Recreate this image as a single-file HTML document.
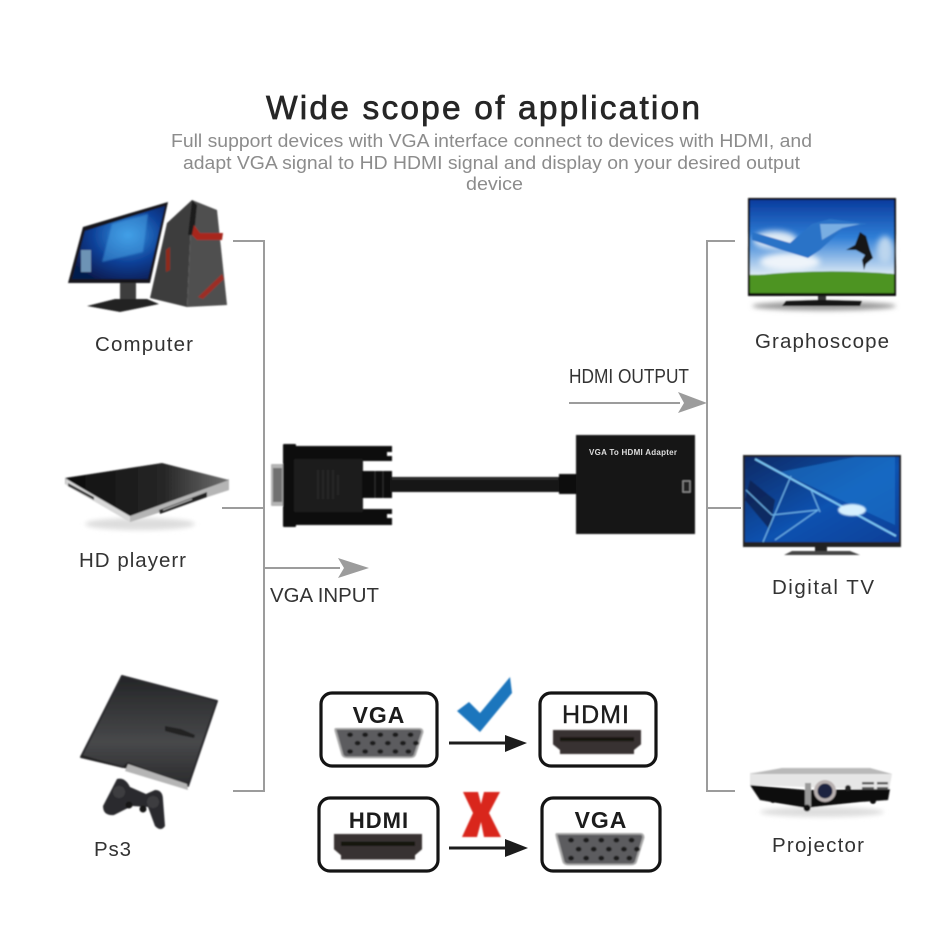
<!DOCTYPE html>
<html><head><meta charset="utf-8"><style>html,body{margin:0;padding:0;background:#fff}svg{display:block}text{font-family:"Liberation Sans",sans-serif}</style></head><body>
<svg width="942" height="942" viewBox="0 0 942 942" xmlns="http://www.w3.org/2000/svg">
<defs>
<filter id="b" x="-10%" y="-10%" width="120%" height="120%"><feGaussianBlur stdDeviation="0.7"/></filter>
<filter id="s" x="-20%" y="-100%" width="140%" height="300%"><feGaussianBlur stdDeviation="2.5"/></filter>
<filter id="c" x="-50%" y="-50%" width="200%" height="200%"><feGaussianBlur stdDeviation="3"/></filter>
<linearGradient id="sky" x1="0" y1="0" x2="0" y2="1"><stop offset="0" stop-color="#0a3c9e"/><stop offset=".4" stop-color="#2f7ed6"/><stop offset=".8" stop-color="#dbe9f5"/><stop offset=".81" stop-color="#5f9e2c"/><stop offset="1" stop-color="#2f7a14"/></linearGradient>
<linearGradient id="tv2" x1="0" y1="0" x2="1" y2="1"><stop offset="0" stop-color="#0a2a66"/><stop offset=".55" stop-color="#0d52b0"/><stop offset="1" stop-color="#0a3f98"/></linearGradient>
<radialGradient id="win" cx=".6" cy=".4" r=".7"><stop offset="0" stop-color="#3a9be8"/><stop offset=".55" stop-color="#0d3f96"/><stop offset="1" stop-color="#061a4d"/></radialGradient>
<linearGradient id="ps" x1="0" y1="0" x2="0" y2="1"><stop offset="0" stop-color="#242527"/><stop offset=".6" stop-color="#47484a"/><stop offset="1" stop-color="#2a2a2c"/></linearGradient>
<linearGradient id="pl" x1="0" y1="0" x2="1" y2="0"><stop offset="0" stop-color="#0c0c0c"/><stop offset=".6" stop-color="#262626"/><stop offset="1" stop-color="#707070"/></linearGradient>
<g id="vgaport">
<path d="M0 1 H77 Q80 1 80 5 L73 32 Q72 35 68 35 H11 Q7 35 6 32 L0 5 Q-1 1 0 1Z" fill="#5c5c5e" stroke="#a9a9a9" stroke-width="2"/>
<g fill="#1c1c1c"><circle cx="13" cy="8" r="2.7"/><circle cx="27" cy="8" r="2.7"/><circle cx="41" cy="8" r="2.7"/><circle cx="55" cy="8" r="2.7"/><circle cx="69" cy="8" r="2.7"/><circle cx="20" cy="18" r="2.7"/><circle cx="34" cy="18" r="2.7"/><circle cx="48" cy="18" r="2.7"/><circle cx="62" cy="18" r="2.7"/><circle cx="74" cy="18" r="2.7"/><circle cx="13" cy="28" r="2.7"/><circle cx="27" cy="28" r="2.7"/><circle cx="41" cy="28" r="2.7"/><circle cx="55" cy="28" r="2.7"/><circle cx="67" cy="28" r="2.7"/></g>
</g>
<g id="hdmiport">
<path d="M0 0 H88 V18 L81 25 V30 H7 V25 L0 18Z" fill="#383331"/>
<rect x="7" y="9" width="74" height="5" fill="#151210"/>
</g>
</defs>

<!-- connectors -->
<g fill="none" stroke="#9c9c9c" stroke-width="2">
<path d="M233 241H264V791H233"/>
<path d="M222 508H264"/>
<path d="M735 241H707V791H735"/>
<path d="M707 508H741"/>
<path d="M569 403H680"/>
<path d="M265 568H340"/>
</g>
<path d="M678 392L707 403L678 413L684 403Z" fill="#9c9c9c"/>
<path d="M338 558L369 568L338 578L344 568Z" fill="#9c9c9c"/>

<!-- title -->
<text x="266" y="119" font-size="33.5" fill="#262626" stroke="#262626" stroke-width=".7" textLength="434" lengthAdjust="spacing">Wide scope of application</text>
<g font-size="18" fill="#8c8c8c">
<text x="171" y="147" textLength="641" lengthAdjust="spacingAndGlyphs">Full support devices with VGA interface connect to devices with HDMI, and</text>
<text x="183" y="169" textLength="617" lengthAdjust="spacingAndGlyphs">adapt VGA signal to HD HDMI signal and display on your desired output</text>
<text x="466" y="190" textLength="57" lengthAdjust="spacingAndGlyphs">device</text>
</g>

<!-- labels -->
<g font-size="20.5" fill="#333">
<text x="95" y="351" textLength="98">Computer</text>
<text x="79" y="567" textLength="107">HD playerr</text>
<text x="94" y="856" textLength="37">Ps3</text>
<text x="755" y="348" textLength="134">Graphoscope</text>
<text x="772" y="594" textLength="102">Digital  TV</text>
<text x="772" y="852" textLength="92">Projector</text>
<text x="569" y="383" textLength="120" lengthAdjust="spacingAndGlyphs">HDMI OUTPUT</text>
<text x="270" y="602" textLength="109" lengthAdjust="spacingAndGlyphs">VGA INPUT</text>
</g>

<!-- computer -->
<g filter="url(#b)">
<path d="M150 298L167 223L192 200L187 307Z" fill="#3d3d3d"/>
<path d="M192 200L217 210L227 305L187 307Z" fill="#4f4f4f"/>
<path d="M192 200L197 205L194 235L188 235Z" fill="#1e1e1e"/>
<path d="M194 225L200 233L223 233L222 240L197 240L192 235Z" fill="#a8261c"/>
<path d="M198 297L222 274L224 279L203 299Z" fill="#9b2f25"/>
<path d="M166 250L170 247V270L166 272Z" fill="#8f2a1d"/>
<path d="M83 227L168 202L150 283H68Z" fill="#15171c"/>
<path d="M85 231L165 206L148 279H72Z" fill="url(#win)"/>
<path d="M112 224L148 214L143 252L102 262Z" fill="#4aa4e6" opacity=".5" filter="url(#b)"/>
<rect x="81" y="250" width="10" height="22" fill="#6d93b5"/>
<rect x="120" y="283" width="16" height="20" fill="#3d3d3d"/>
<path d="M87 306L115 299H147L159 304L120 312Z" fill="#222"/>
</g>

<!-- HD player -->
<g filter="url(#b)">
<ellipse cx="140" cy="524" rx="55" ry="6" fill="#ddd" filter="url(#s)"/>
<path d="M65 484L130 522L229 490V479L130 517L65 478Z" fill="#b9b9b9"/>
<path d="M65 478L162 463L229 480L130 518Z" fill="url(#pl)"/>
<path d="M66 485L130 522L130 516L66 479Z" fill="#d8d8d8"/>
<path d="M68 486L94 500V497L68 483Z" fill="#333"/>
<path d="M130 522L229 490V480L130 516Z" fill="#b5b5b5"/>
<path d="M159 510L207 492V497L160 514Z" fill="#222"/>
<path d="M163 510L192 499" stroke="#bbb" stroke-width="1"/>
</g>

<!-- PS3 -->
<g filter="url(#b)">
<path d="M122 676L217 701L188 786L128 763L123 767L81 757Z" fill="url(#ps)" stroke="#2c2c2e" stroke-width="2" stroke-linejoin="round"/>
<path d="M81 757L124 768L187 788L188 784L128 763L123 767L82 755Z" fill="#202020"/>
<path d="M128 764L187 784L188 790L125 771Z" fill="#b5b5b5"/>
<path d="M165 726L181 729L195 735L194 738L180 735L165 731Z" fill="#232323"/>
<path d="M117 779Q125 777 130 787L146 794L155 790Q163 790 163 800L165 826Q161 832 155 826L148 807L132 806L114 815Q103 816 103 806Z" fill="#2a2b2e"/>
<circle cx="119" cy="792" r="6" fill="#3d3d40"/><circle cx="153" cy="802" r="6" fill="#3d3d40"/>
<circle cx="129" cy="805" r="3.5" fill="#151515"/><circle cx="143" cy="809" r="3.5" fill="#151515"/>
</g>

<!-- TV1 -->
<g filter="url(#b)">
<ellipse cx="824" cy="306" rx="72" ry="4.5" fill="#999" filter="url(#s)"/>
<rect x="748" y="198" width="148" height="98" fill="#111"/>
<rect x="750" y="200" width="144" height="93" fill="url(#sky)"/>
<ellipse cx="775" cy="240" rx="22" ry="9" fill="#dfeaf5" filter="url(#c)"/>
<ellipse cx="790" cy="262" rx="30" ry="9" fill="#eef4fa" filter="url(#c)"/>
<ellipse cx="885" cy="250" rx="8" ry="14" fill="#bcd6ee" filter="url(#c)"/>
<path d="M752 232L790 243L812 224L830 219L868 224L845 227L820 250L808 258L782 250L752 240Z" fill="#2b73c7"/>
<path d="M820 224L860 224L842 228L822 240Z" fill="#79aee2"/>
<path d="M860 232L866 236L870 250L873 258L866 264L864 270L862 260L865 255L856 250L846 250L855 245Z" fill="#141414"/>
<path d="M750 276Q820 268 894 274V293H750Z" fill="#4d9422"/>
<rect x="818" y="296" width="8" height="6" fill="#333"/>
<path d="M786 301L818 300H826L862 301L860 306H782Z" fill="#181818"/>
</g>

<!-- TV2 -->
<g filter="url(#b)">
<rect x="743" y="455" width="158" height="92" fill="#222"/>
<rect x="745" y="457" width="154" height="85" fill="url(#tv2)"/>
<path d="M780 472L855 457H895V525Z" fill="#1a78cf" opacity=".6"/>
<path d="M750 480L775 500L770 530L745 500Z" fill="#0a1f4a" opacity=".7"/>
<path d="M755 459L896 536" stroke="#7cc7f5" stroke-width="2"/>
<path d="M791 476L763 542M746 490L772 515M772 515L818 510L775 540M811 490L820 512" stroke="#6cb3e8" stroke-width="1.2" fill="none"/>
<ellipse cx="852" cy="510" rx="14" ry="6" fill="#d6f0ff" filter="url(#b)"/>
<rect x="815" y="547" width="12" height="7" fill="#222"/>
<path d="M784 555L792 551H850L860 555Z" fill="#444"/>
</g>

<!-- projector -->
<g filter="url(#b)">
<ellipse cx="822" cy="812" rx="62" ry="5" fill="#ddd" filter="url(#s)"/>
<path d="M750 773L782 768H870L892 774L889 790L750 785Z" fill="#e6e6e6"/>
<path d="M782 768H870L892 774H750Z" fill="#b9b9b9"/>
<path d="M750 785L806 790L890 789L888 800L860 802L806 808L760 800Z" fill="#111"/>
<rect x="805" y="783" width="6" height="24" fill="#999"/>
<circle cx="825" cy="791" r="11" fill="#b8b0b0"/>
<circle cx="825" cy="791" r="7.5" fill="#1a2340"/>
<circle cx="848" cy="788" r="3" fill="#222"/>
<g fill="#555"><rect x="862" y="782" width="12" height="2.5"/><rect x="862" y="787" width="12" height="2.5"/><rect x="877" y="782" width="11" height="2.5"/><rect x="877" y="787" width="11" height="2.5"/></g>
<circle cx="807" cy="808" r="3.5" fill="#111"/><circle cx="773" cy="800" r="3" fill="#111"/><circle cx="873" cy="801" r="3" fill="#111"/>
</g>

<!-- adapter -->
<g filter="url(#b)">
<rect x="271" y="464" width="13" height="42" rx="1" fill="#b4b4b4"/>
<rect x="273" y="468" width="9" height="34" fill="#6f6f6f"/>
<rect x="283" y="444" width="13" height="83" rx="1" fill="#111"/>
<path d="M296 446H392V452H387V456H392V461H296Z" fill="#111"/>
<path d="M296 509H392V514H387V518H392V525H296Z" fill="#111"/>
<rect x="294" y="459" width="69" height="53" rx="2" fill="#1a1a1a"/>
<path d="M318 470V499M323 470V499M328 470V499M333 470V499M338 475V495" stroke="#2f2f2f" stroke-width="1.2"/>
<rect x="362" y="471" width="30" height="27" fill="#111"/>
<path d="M375 471V498M383 471V498" stroke="#333"/>
<rect x="390" y="477" width="172" height="15" fill="#131313"/>
<path d="M392 479H558" stroke="#3a3a3a"/>
<rect x="559" y="474" width="18" height="20" fill="#0f0f0f"/>
<rect x="576" y="435" width="119" height="99" fill="#131313"/>
<rect x="683" y="481" width="7" height="11" fill="#222" stroke="#999"/>
</g>
<text x="589" y="455" font-size="8" font-weight="700" fill="#ddd" textLength="88">VGA To HDMI Adapter</text>

<!-- compat boxes -->
<g fill="none" stroke="#141414" stroke-width="3.2">
<rect x="321" y="693" width="116" height="73" rx="11"/>
<rect x="540" y="693" width="116" height="73" rx="11"/>
<rect x="319" y="798" width="119" height="73" rx="11"/>
<rect x="542" y="798" width="118" height="73" rx="11"/>
</g>
<g fill="#1c1c1c" text-anchor="middle">
<text x="379" y="723" font-size="23" font-weight="700" letter-spacing="1">VGA</text>
<text x="596" y="723" font-size="25" letter-spacing="1" stroke="#1c1c1c" stroke-width=".4">HDMI</text>
<text x="379" y="828" font-size="22" font-weight="700" letter-spacing="1">HDMI</text>
<text x="601" y="828" font-size="23" font-weight="700" letter-spacing="1">VGA</text>
</g>
<g filter="url(#b)">
<use href="#vgaport" transform="translate(336,728) scale(1.08,.84)"/>
<use href="#vgaport" transform="translate(557,833) scale(1.08,.9)"/>
<use href="#hdmiport" transform="translate(553,730) scale(1,.8)"/>
<use href="#hdmiport" transform="translate(334,834) scale(1,.85)"/>
</g>
<g stroke="#1c1c1c" stroke-width="3"><path d="M449 743H510"/><path d="M449 848H510"/></g>
<path d="M505 735L527 743L505 752Z" fill="#1c1c1c"/>
<path d="M505 839L528 848L505 857Z" fill="#1c1c1c"/>
<path d="M457 711L469 702L480 713L510 677L512 693L480 732Z" fill="#1b76bd" filter="url(#b)"/>
<path d="M463 792H478L481 804L484 792H500L489 813L501 837H484L481 822L477 837H462L473 813Z" fill="#d9281e" filter="url(#b)"/>
</svg>
</body></html>
